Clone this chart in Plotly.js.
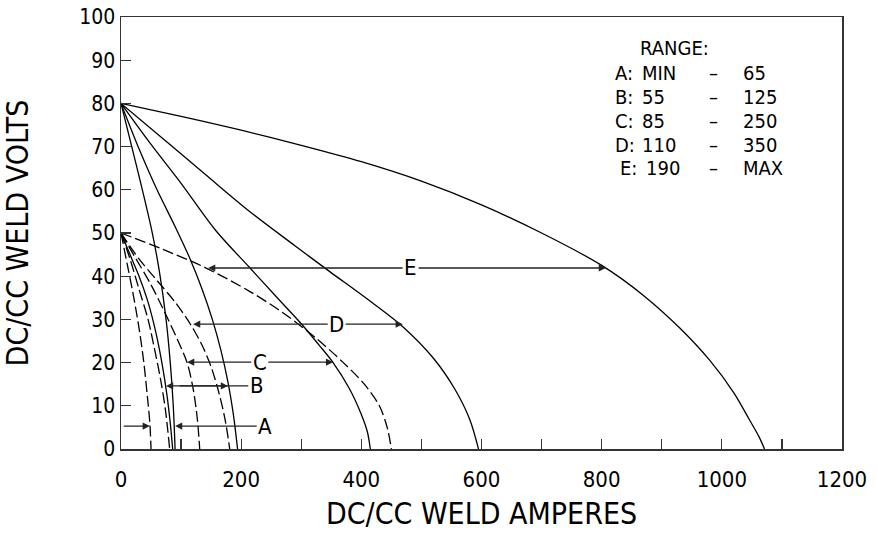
<!DOCTYPE html>
<html><head><meta charset="utf-8">
<script src="https://cdn.plot.ly/plotly-3.0.1.min.js"></script>
<style>html,body{margin:0;padding:0;background:#fff}#chart{width:878px;height:539px}</style>
</head><body><div id="chart"></div>
<script>
const FONT = '"Liberation Sans Narrow", "DejaVu Sans Condensed", "Liberation Sans", Arial, sans-serif';

// ---- curve data (amps, volts) ----
const aMinAmps = [0,10,20,30,38,44,48,50];
const aMinVolts = [50,43,36,28,20,12,6,0];
const bMinAmps = [0,15,30,45,56,66,74,81];
const bMinVolts = [50,44,37,30,23,16,9,0];
const aMaxAmps = [0,15,30,45,58,68,76,82,86];
const aMaxVolts = [50,45,40,34,27,20,13,6,0];
const cMinAmps = [0,25,50,75,95,110,120,127,131];
const cMinVolts = [50,44,38,31,25,20,14,7,0];
const dMinAmps = [0,30,60,90,115,135,150,163,173,181];
const dMinVolts = [50,44,39,34,29,24,19,13,7,0];
const eMinAmps = [0,70,140,214,270,326,370,405,430,443,450];
const eMinVolts = [50,46.2,42,36.5,31.5,25.5,20,15,10,5,0];
const steepAmps = [0,25,51,64,75,82,87,90];
const steepVolts = [80,66,50.7,41,30,20,10,0];
const bMaxAmps = [0,30,60,90,115,135,152,166,178,187,194];
const bMaxVolts = [80,69.5,60,51.5,44,37,30,23,15.5,8,0];
const cMaxAmps = [0,50,100,157,214,260,300,330,353,380,400,410,415];
const cMaxVolts = [80,70.5,61.5,50.7,42,35,29,24,20,14,8,4,0];
const dMaxAmps = [0,70,140,214,290,348,410,469,520,555,580,595];
const dMaxVolts = [80,71.8,63.6,55,47,41,34.7,28.3,21,14,7,0];
const eMaxAmps = [0,100,200,300,400,500,600,700,800,870,930,980,1020,1045,1062,1071];
const eMaxVolts = [80,77,73.8,70.3,66.5,62,56.5,50,42.5,35.5,28,20.5,13,7,2.8,0];

// ---- range markers ----
const rangeNames = ['A','B','C','D','E'];
const rangeLow = ['MIN','55','85','110','190'];
const rangeHigh = ['65','125','250','350','MAX'];
const markerVolts = [5.3, 14.6, 20.1, 28.9, 41.9];
const labelAmps = [240, 226, 231, 359, 482];
const leftTipAmps = [48, 75, 110, 120, 145];
const rightTipAmps = [90, 178, 353, 469, 807];

// ---- ticks ----
const xTickVals = [0,100,200,300,400,500,600,700,800,900,1000,1100,1200];
const xTickText = ['0','','200','','400','','600','','800','','1000','','1200'];
const yTickVals = [0,10,20,30,40,50,60,70,80,90,100];
const yTickText = ['0','10','20','30','40','50','60','70','80','90','100'];

const dashed = [[aMinAmps,aMinVolts],[bMinAmps,bMinVolts],[cMinAmps,cMinVolts],[dMinAmps,dMinVolts],[eMinAmps,eMinVolts]];
const solid = [[aMaxAmps,aMaxVolts],[steepAmps,steepVolts],[bMaxAmps,bMaxVolts],[cMaxAmps,cMaxVolts],[dMaxAmps,dMaxVolts],[eMaxAmps,eMaxVolts]];

const traces = [];
dashed.forEach(c => traces.push({x:c[0], y:c[1], mode:'lines', line:{color:'#000', width:1.3, dash:'11px,4px', shape:'spline', smoothing:0.9}, hoverinfo:'skip', showlegend:false}));
solid.forEach(c => traces.push({x:c[0], y:c[1], mode:'lines', line:{color:'#000', width:1.3, shape:'spline', smoothing:0.9}, hoverinfo:'skip', showlegend:false}));

const ann = [];
const arrowStyle = {showarrow:true, arrowhead:2, arrowsize:1.1, arrowwidth:1.3, arrowcolor:'#222', xref:'x', yref:'y', axref:'x', ayref:'y'};
const lblFont = {family:FONT, size:22, color:'#000'};
const ghost = {family:FONT, size:22, color:'rgba(0,0,0,0)'};
rangeNames.forEach((n,i) => {
  const v = markerVolts[i];
  if (i === 0) {
    ann.push(Object.assign({}, arrowStyle, {text:n, font:lblFont, x:rightTipAmps[i], y:v, ax:labelAmps[i], ay:v}));
    ann.push(Object.assign({}, arrowStyle, {text:'', font:ghost, x:leftTipAmps[i], y:v, ax:2, ay:v}));
  } else if (i === 1) {
    ann.push(Object.assign({}, arrowStyle, {text:n, font:lblFont, x:leftTipAmps[i], y:v, ax:labelAmps[i], ay:v}));
    ann.push(Object.assign({}, arrowStyle, {text:'', font:ghost, x:rightTipAmps[i], y:v, ax:leftTipAmps[i]+20, ay:v}));
  } else {
    ann.push(Object.assign({}, arrowStyle, {text:n, font:lblFont, x:leftTipAmps[i], y:v, ax:labelAmps[i], ay:v}));
    ann.push(Object.assign({}, arrowStyle, {text:n, font:ghost, x:rightTipAmps[i], y:v, ax:labelAmps[i], ay:v}));
  }
});

// range legend block
const legFont = {family:FONT, size:20, color:'#000'};
const rowY = [0.870, 0.815, 0.759, 0.704, 0.650];
ann.push({text:'RANGE:', xref:'paper', yref:'paper', x:0.717, y:0.929, xanchor:'left', yanchor:'middle', showarrow:false, font:legFont});
rangeNames.forEach((n,i) => {
  ann.push({text:n+':', xref:'paper', yref:'paper', x:0.683 + (i===4?0.006:0), y:rowY[i], xanchor:'left', yanchor:'middle', showarrow:false, font:legFont});
  ann.push({text:rangeLow[i], xref:'paper', yref:'paper', x:0.72 + (i===4?0.006:0), y:rowY[i], xanchor:'left', yanchor:'middle', showarrow:false, font:legFont});
  ann.push({text:'\u2013', xref:'paper', yref:'paper', x:0.822, y:rowY[i], xanchor:'center', yanchor:'middle', showarrow:false, font:legFont});
  ann.push({text:rangeHigh[i], xref:'paper', yref:'paper', x:0.86, y:rowY[i], xanchor:'left', yanchor:'middle', showarrow:false, font:legFont});
});

const axisCommon = {showline:true, linecolor:'#333', linewidth:1.5, mirror:true, ticks:'inside', ticklen:10, tickwidth:1.3, tickcolor:'#333', showgrid:false, zeroline:false, fixedrange:true};

const layout = {
  width:878, height:539,
  margin:{l:121, r:36, t:17, b:90},
  paper_bgcolor:'#fff', plot_bgcolor:'#fff',
  font:{family:FONT, color:'#000'},
  xaxis:Object.assign({}, axisCommon, {range:[0,1200], tickmode:'array', tickvals:xTickVals, ticktext:xTickText, ticklabelstandoff:10,
    tickfont:{family:FONT, size:22, color:'#000'},
    title:{text:'DC/CC WELD AMPERES', font:{family:FONT, size:30, color:'#000'}, standoff:12}}),
  yaxis:Object.assign({}, axisCommon, {range:[0,100], tickmode:'array', tickvals:yTickVals, ticktext:yTickText, ticklabelstandoff:0,
    tickfont:{family:FONT, size:21, color:'#000'},
    title:{text:'DC/CC WELD VOLTS', font:{family:FONT, size:30, color:'#000'}, standoff:44}}),
  annotations:ann,
  showlegend:false
};

Plotly.newPlot('chart', traces, layout, {staticPlot:true, displayModeBar:false});
</script>
</body></html>
